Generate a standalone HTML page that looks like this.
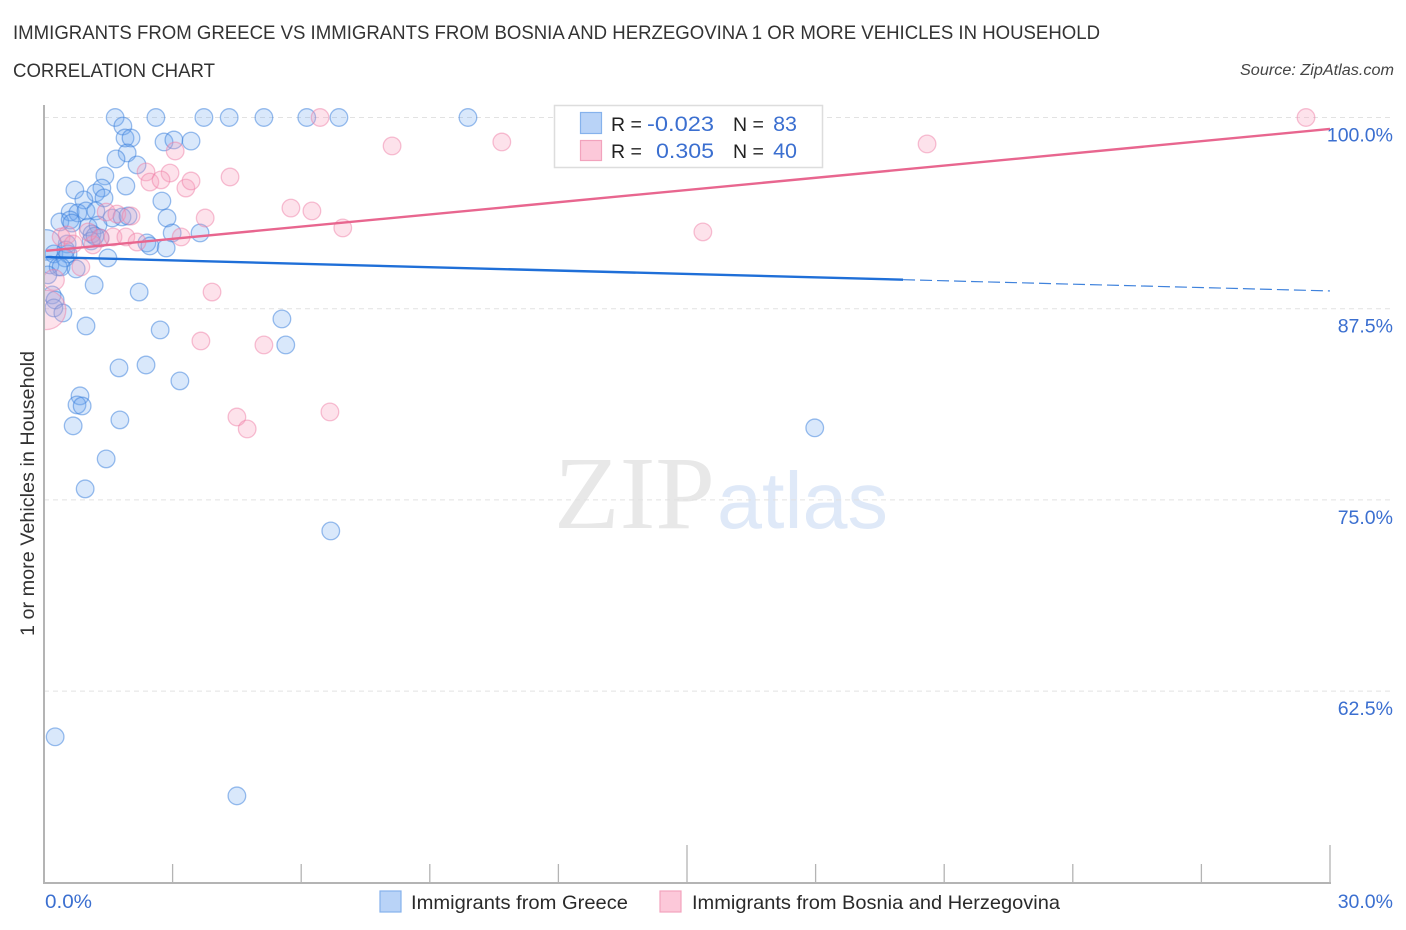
<!DOCTYPE html>
<html lang="en">
<head>
<meta charset="utf-8">
<title>Correlation chart</title>
<style>
html,body{margin:0;padding:0;background:#fff;}
svg{display:block;font-family:"Liberation Sans",sans-serif;}
</style>
</head>
<body>
<svg id="chart" xmlns="http://www.w3.org/2000/svg" width="1406" height="930" viewBox="0 0 1406 930">
  <defs>
    <clipPath id="plot-clip"><rect x="45" y="100" width="1361" height="783"/></clipPath>
  </defs>
  <rect x="0" y="0" width="1406" height="930" fill="#ffffff"/>
  <text x="13" y="39" font-size="19" fill="#333333" textLength="1087" lengthAdjust="spacingAndGlyphs">IMMIGRANTS FROM GREECE VS IMMIGRANTS FROM BOSNIA AND HERZEGOVINA 1 OR MORE VEHICLES IN HOUSEHOLD</text>
  <text x="13" y="77" font-size="19" fill="#333333" textLength="202" lengthAdjust="spacingAndGlyphs">CORRELATION CHART</text>
  <text x="1394" y="75" font-size="15.5" font-style="italic" fill="#444" text-anchor="end" textLength="154" lengthAdjust="spacingAndGlyphs">Source: ZipAtlas.com</text>

  <g>
    <text x="554" y="528" font-family="'Liberation Serif',serif" font-size="104" fill="#e8e8e8" textLength="161" lengthAdjust="spacingAndGlyphs">ZIP</text>
    <text x="717" y="528" font-size="80" fill="#dfe9f8" textLength="171" lengthAdjust="spacingAndGlyphs">atlas</text>
  </g>

  <g id="grid"></g>
  <g id="axes"></g>
  <g id="points" clip-path="url(#plot-clip)"></g>
  <g id="trends"></g>
  <g id="labels"></g>

  <text transform="translate(34,493.5) rotate(-90)" font-size="19" fill="#333333" text-anchor="middle" textLength="285" lengthAdjust="spacingAndGlyphs">1 or more Vehicles in Household</text>

  <g>
    <rect x="554.5" y="105.5" width="268" height="62" fill="#ffffff" stroke="#dddddd" stroke-width="1.5"/>
    <rect x="580.5" y="112.5" width="21" height="21" fill="#b9d3f7" stroke="#86b2ec" stroke-width="1.2"/>
    <rect x="580.5" y="140.5" width="21" height="20" fill="#fcc8d9" stroke="#f2a3bd" stroke-width="1.2"/>
    <text x="611" y="131" font-size="19.5" fill="#222">R =</text>
    <text x="647" y="131" font-size="21.5" fill="#3b6fd0" textLength="67" lengthAdjust="spacingAndGlyphs">-0.023</text>
    <text x="733" y="131" font-size="19.5" fill="#222">N =</text>
    <text x="797" y="131" font-size="21.5" fill="#3b6fd0" text-anchor="end">83</text>
    <text x="611" y="158" font-size="19.5" fill="#222">R =</text>
    <text x="656" y="158" font-size="21.5" fill="#3b6fd0" textLength="58" lengthAdjust="spacingAndGlyphs">0.305</text>
    <text x="733" y="158" font-size="19.5" fill="#222">N =</text>
    <text x="797" y="158" font-size="21.5" fill="#3b6fd0" text-anchor="end">40</text>
  </g>

  <g>
    <g>
      <rect x="380" y="891" width="21" height="21" fill="#b9d3f7" stroke="#86b2ec" stroke-width="1.2"/>
      <text x="411" y="909" font-size="19.5" fill="#2a2a2a" textLength="217" lengthAdjust="spacingAndGlyphs">Immigrants from Greece</text>
    </g>
    <g>
      <rect x="660" y="891" width="21" height="21" fill="#fcc8d9" stroke="#f2a3bd" stroke-width="1.2"/>
      <text x="692" y="909" font-size="19.5" fill="#2a2a2a" textLength="368" lengthAdjust="spacingAndGlyphs">Immigrants from Bosnia and Herzegovina</text>
    </g>
  </g>
</svg>

<script>
var greeceX = [1.66,2.61,3.73,4.32,5.13,6.13,6.88,9.89,1.84,1.89,2.03,2.80,3.03,3.43,1.94,1.68,2.17,1.42,1.91,0.72,1.35,1.21,1.40,0.93,2.75,0.61,0.79,0.98,1.21,2.87,1.59,1.82,1.96,0.37,0.61,1.03,1.26,1.12,1.31,2.99,3.64,1.10,0.54,2.40,2.47,2.85,0.05,0.23,0.56,0.49,1.49,0.14,0.33,0.40,0.75,1.17,2.22,0.19,0.26,0.23,0.44,0.98,2.71,5.55,5.64,2.38,1.75,3.17,0.84,0.77,0.89,1.77,0.68,17.98,1.45,0.96,6.69,0.26,4.50,0.65,0.51,1.19,0.09];
var greeceY = [100,100,100,100,100,100,100,100,99.44,98.66,98.66,98.40,98.53,98.46,97.68,97.29,96.90,96.18,95.52,95.26,95.39,95.07,94.74,94.61,94.54,93.82,93.76,93.89,93.89,93.43,93.43,93.50,93.56,93.17,93.30,92.84,92.97,92.39,92.12,92.45,92.45,91.93,91.73,91.80,91.60,91.47,91.67,91.08,91.08,90.82,90.82,90.36,90.23,90.23,90.10,89.05,88.59,88.40,88.07,87.55,87.22,86.37,86.11,86.83,85.13,83.82,83.63,82.78,81.80,81.21,81.14,80.23,79.84,79.71,77.68,75.72,72.97,59.51,55.65,93.10,91.34,92.25,89.71];
var greeceBigIndex = [46];
var greeceBigWeight = [3];

var bosniaX = [6.44,29.44,8.12,10.68,20.60,3.06,2.38,2.94,2.47,2.73,3.31,3.43,4.34,5.76,6.25,3.76,6.97,15.37,1.45,1.70,2.03,0.40,0.54,0.68,1.14,1.31,1.61,1.91,2.17,3.20,0.86,0.23,3.92,3.66,5.13,4.50,4.74,6.67,0.05,1.03];
var bosniaY = [100,100,98.14,98.40,98.27,97.81,96.44,96.37,95.78,95.92,95.39,95.85,96.11,94.08,93.89,93.43,92.78,92.52,93.82,93.69,93.56,92.19,92.32,91.73,91.67,92.12,92.19,92.19,91.86,92.19,90.23,89.38,88.59,85.39,85.13,80.42,79.64,80.75,87.42,92.52];
var bosniaBigIndex = [38,31];
var bosniaBigWeight = [5,1.4];

var greeceTrendY = [90.88, 88.66];
var greeceTrendSolidEnd = 20.04;
var bosniaTrendY = [91.27, 99.25];
var trendDomainX = [0.05, 30];

var yTickValues = [100, 87.5, 75, 62.5];
var yTickLabels = ["100.0%", "87.5%", "75.0%", "62.5%"];
var xTickValues = [0,3,6,9,12,15,18,21,24,27,30];
var xMajorTicks = [0,15,30];
var xEndLabels = ["0.0%", "30.0%"];

var svgNS = "http://www.w3.org/2000/svg";
function xScale(v){ return 44 + v * (1286 / 30); }
function yScale(v){ return 117.5 + (100 - v) * (191.2 / 12.5); }
function make(tag, attrs, parent){
  var el = document.createElementNS(svgNS, tag);
  for (var k in attrs) { el.setAttribute(k, attrs[k]); }
  parent.appendChild(el);
  return el;
}
var gridG = document.getElementById("grid");
var axesG = document.getElementById("axes");
var pointsG = document.getElementById("points");
var trendsG = document.getElementById("trends");
var labelsG = document.getElementById("labels");

yTickValues.forEach(function(v, i){
  var line = make("line", {x1:44, x2:1394, y1:yScale(v), y2:yScale(v), stroke:"#e2e2e2", "stroke-width":1, "stroke-dasharray":"5 4"}, gridG);
  
  
  var t = make("text", {x:1393, y:yScale(v)+24, "font-size":19.5, fill:"#3b6fd0", "text-anchor":"end"}, labelsG);
  t.textContent = yTickLabels[i];
  
  
});

var yAxisLine = make("line", {x1:44, x2:44, y1:105, y2:883, stroke:"#b4b4b4", "stroke-width":2}, axesG);


var xAxisLine = make("line", {x1:43, x2:1331, y1:883, y2:883, stroke:"#b4b4b4", "stroke-width":2}, axesG);


xTickValues.forEach(function(v){
  var major = xMajorTicks.indexOf(v) >= 0;
  var tick = make("line", {x1:xScale(v), x2:xScale(v), y1:883, y2:major ? 845 : 864, stroke:"#b4b4b4", "stroke-width":1.3}, axesG);
  
  
});

var lx0 = make("text", {x:45, y:908, "font-size":19.5, fill:"#3b6fd0", textLength:47, lengthAdjust:"spacingAndGlyphs"}, labelsG);
lx0.textContent = xEndLabels[0];


var lx1 = make("text", {x:1393, y:908, "font-size":19.5, fill:"#3b6fd0", "text-anchor":"end"}, labelsG);
lx1.textContent = xEndLabels[1];



function weightOf(i, idx, w){
  var p = idx.indexOf(i);
  return p >= 0 ? w[p] : 1;
}

greeceX.forEach(function(x, i){
  var c = make("circle", {cx:xScale(x), cy:yScale(greeceY[i]), r:8.8*Math.sqrt(weightOf(i, greeceBigIndex, greeceBigWeight)), fill:"rgba(110,165,240,0.26)", stroke:"rgba(55,125,220,0.5)", "stroke-width":1.3}, pointsG);
  
  
});
bosniaX.forEach(function(x, i){
  var c = make("circle", {cx:xScale(x), cy:yScale(bosniaY[i]), r:8.8*Math.sqrt(weightOf(i, bosniaBigIndex, bosniaBigWeight)), fill:"rgba(248,160,190,0.3)", stroke:"rgba(238,125,165,0.48)", "stroke-width":1.3}, pointsG);
  
  
});

function lineAt(ys, x){
  return ys[0] + (ys[1] - ys[0]) * x / 30;
}
var gs = make("line", {x1:xScale(trendDomainX[0]), y1:yScale(lineAt(greeceTrendY, trendDomainX[0])), x2:xScale(greeceTrendSolidEnd), y2:yScale(lineAt(greeceTrendY, greeceTrendSolidEnd)), stroke:"#1f6fd8", "stroke-width":2.4}, trendsG);


var gd = make("line", {x1:xScale(greeceTrendSolidEnd), y1:yScale(lineAt(greeceTrendY, greeceTrendSolidEnd)), x2:xScale(trendDomainX[1]), y2:yScale(lineAt(greeceTrendY, trendDomainX[1])), stroke:"#3f82dc", "stroke-width":1.2, "stroke-dasharray":"12 5"}, trendsG);


var bs = make("line", {x1:xScale(trendDomainX[0]), y1:yScale(lineAt(bosniaTrendY, trendDomainX[0])), x2:xScale(trendDomainX[1]), y2:yScale(lineAt(bosniaTrendY, trendDomainX[1])), stroke:"#e8668f", "stroke-width":2.4}, trendsG);


</script>
</body>
</html>
